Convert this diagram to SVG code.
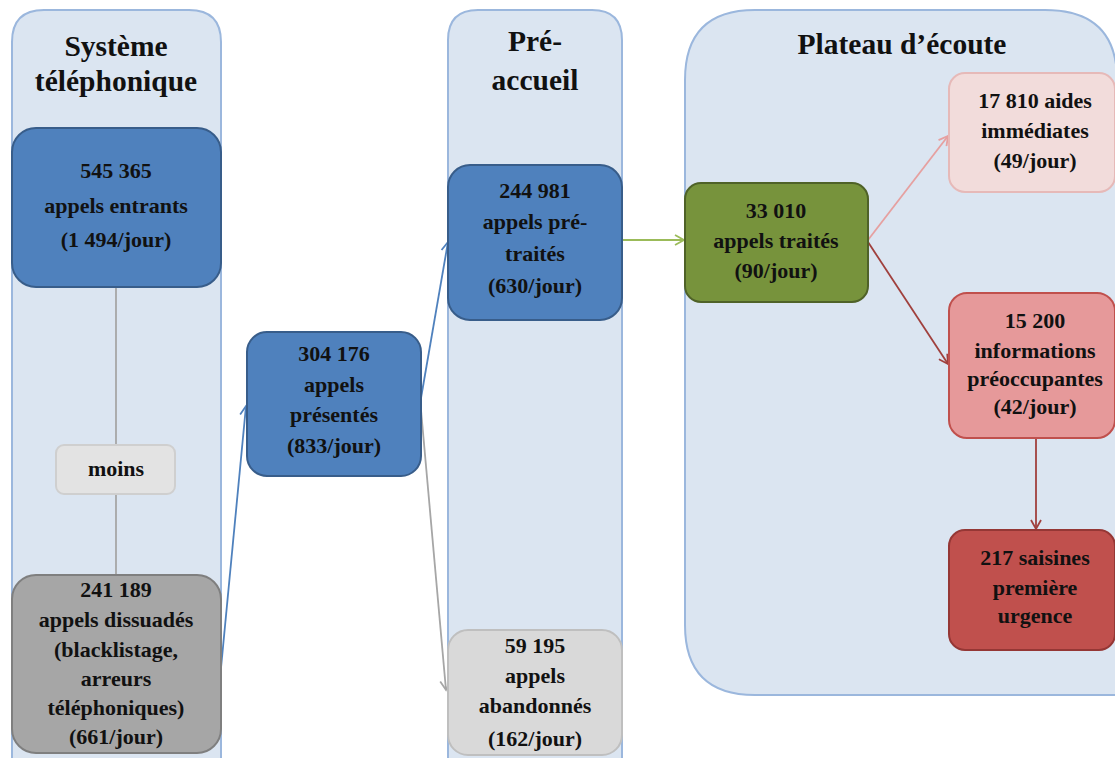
<svg xmlns="http://www.w3.org/2000/svg" width="1115" height="758" viewBox="0 0 1115 758">
<style>
.lane{fill:#dbe5f1;stroke:#9bb7dd;stroke-width:2}
.t{font-family:"Liberation Serif",serif;font-size:22px;fill:#111;text-anchor:middle;font-weight:bold}
.h{font-family:"Liberation Serif",serif;font-size:29.5px;fill:#111;text-anchor:middle;font-weight:bold}
.blue{fill:#4f81bd;stroke:#385d8a;stroke-width:2}
.gray{fill:#a6a6a6;stroke:#7f7f7f;stroke-width:2}
.lgray{fill:#d9d9d9;stroke:#bfbfbf;stroke-width:2}
.green{fill:#77933c;stroke:#4f6228;stroke-width:2}
.pink{fill:#f2dcdb;stroke:#e6b9b8;stroke-width:2}
.rose{fill:#e6999a;stroke:#c0504d;stroke-width:2}
.red{fill:#c0504d;stroke:#953735;stroke-width:2}
.c{fill:none;stroke-width:1.8}
</style>
<defs>
<marker id="aB" markerWidth="12" markerHeight="12" refX="10" refY="6" orient="auto" markerUnits="userSpaceOnUse"><path d="M1,1 L10,6 L1,11" fill="none" stroke="#4f81bd" stroke-width="1.8"/></marker>
<marker id="aG" markerWidth="12" markerHeight="12" refX="10" refY="6" orient="auto" markerUnits="userSpaceOnUse"><path d="M1,1 L10,6 L1,11" fill="none" stroke="#a6a6a6" stroke-width="1.8"/></marker>
<marker id="aGr" markerWidth="12" markerHeight="12" refX="10" refY="6" orient="auto" markerUnits="userSpaceOnUse"><path d="M1,1 L10,6 L1,11" fill="none" stroke="#9bbb59" stroke-width="1.8"/></marker>
<marker id="aP" markerWidth="12" markerHeight="12" refX="10" refY="6" orient="auto" markerUnits="userSpaceOnUse"><path d="M1,1 L10,6 L1,11" fill="none" stroke="#e6a0a0" stroke-width="1.8"/></marker>
<marker id="aR" markerWidth="12" markerHeight="12" refX="10" refY="6" orient="auto" markerUnits="userSpaceOnUse"><path d="M1,1 L10,6 L1,11" fill="none" stroke="#a0403d" stroke-width="1.8"/></marker>
</defs>
<rect width="1115" height="758" fill="#fff"/>
<g id="lane-systeme">
<path class="lane" d="M12,760 L12,42 Q12,10 44,10 L189,10 Q221,10 221,42 L221,760"/>
<text class="h" x="116" y="56">Système</text>
<text class="h" x="116" y="91">téléphonique</text>
</g>
<g id="lane-preaccueil">
<path class="lane" d="M448,760 L448,40 Q448,10 478,10 L592,10 Q622,10 622,40 L622,760"/>
<text class="h" x="535" y="51">Pré-</text>
<text class="h" x="535" y="90">accueil</text>
</g>
<g id="lane-plateau">
<path class="lane" d="M1117,695 L755,695 Q685,695 685,625 L685,80 Q685,10 755,10 L1045,10 Q1117,10 1117,80"/>
<text class="h" x="902" y="54">Plateau d’écoute</text>
</g>
<g id="connectors">
<line class="c" x1="116" y1="287" x2="116" y2="445" stroke="#a6a6a6"/>
<line class="c" x1="116" y1="494" x2="116" y2="575" stroke="#a6a6a6"/>
<line class="c" x1="221" y1="668" x2="246" y2="406" stroke="#4f81bd" marker-end="url(#aB)"/>
<line class="c" x1="421" y1="398" x2="448" y2="242" stroke="#4f81bd" marker-end="url(#aB)"/>
<line class="c" x1="421" y1="410" x2="446" y2="690" stroke="#a6a6a6" marker-end="url(#aG)"/>
<line class="c" x1="622" y1="240" x2="684" y2="240" stroke="#9bbb59" marker-end="url(#aGr)"/>
<line class="c" x1="868" y1="240" x2="948" y2="136" stroke="#e6a0a0" marker-end="url(#aP)"/>
<line class="c" x1="868" y1="242" x2="948" y2="364" stroke="#a0403d" marker-end="url(#aR)"/>
<line class="c" x1="1036" y1="438" x2="1036" y2="529" stroke="#a0403d" marker-end="url(#aR)"/>
</g>
<g id="n-entrants">
<rect class="blue" x="12" y="128" width="209" height="159" rx="24"/>
<text class="t" x="116" y="178">545 365</text>
<text class="t" x="116" y="213">appels entrants</text>
<text class="t" x="116" y="247">(1 494/jour)</text>
</g>
<g id="n-moins">
<rect class="lgray" x="56" y="445" width="119" height="49" rx="8" style="fill:#e3e3e3;stroke:#cfcfcf"/>
<text class="t" x="116" y="476">moins</text>
</g>
<g id="n-dissuades">
<rect class="gray" x="12" y="575" width="209" height="178" rx="24"/>
<text class="t" x="116" y="597">241 189</text>
<text class="t" x="116" y="627">appels dissuadés</text>
<text class="t" x="116" y="657">(blacklistage,</text>
<text class="t" x="116" y="686">arreurs</text>
<text class="t" x="116" y="715">téléphoniques)</text>
<text class="t" x="116" y="744">(661/jour)</text>
</g>
<g id="n-presentes">
<rect class="blue" x="247" y="332" width="174" height="144" rx="20"/>
<text class="t" x="334" y="361">304 176</text>
<text class="t" x="334" y="392">appels</text>
<text class="t" x="334" y="422">présentés</text>
<text class="t" x="334" y="453">(833/jour)</text>
</g>
<g id="n-pretraites">
<rect class="blue" x="448" y="165" width="174" height="155" rx="22"/>
<text class="t" x="535" y="198">244 981</text>
<text class="t" x="535" y="229">appels pré-</text>
<text class="t" x="535" y="261">traités</text>
<text class="t" x="535" y="293">(630/jour)</text>
</g>
<g id="n-abandonnes">
<rect class="lgray" x="448" y="630" width="174" height="125" rx="20"/>
<text class="t" x="535" y="653">59 195</text>
<text class="t" x="535" y="683">appels</text>
<text class="t" x="535" y="713">abandonnés</text>
<text class="t" x="535" y="746">(162/jour)</text>
</g>
<g id="n-traites">
<rect class="green" x="685" y="183" width="183" height="119" rx="16"/>
<text class="t" x="776" y="218">33 010</text>
<text class="t" x="776" y="248">appels traités</text>
<text class="t" x="776" y="278">(90/jour)</text>
</g>
<g id="n-aides">
<rect class="pink" x="949" y="73" width="166" height="119" rx="16"/>
<text class="t" x="1035" y="108">17 810 aides</text>
<text class="t" x="1035" y="138">immédiates</text>
<text class="t" x="1035" y="168">(49/jour)</text>
</g>
<g id="n-informations">
<rect class="rose" x="949" y="293" width="166" height="145" rx="18"/>
<text class="t" x="1035" y="328">15 200</text>
<text class="t" x="1035" y="358">informations</text>
<text class="t" x="1035" y="386">préoccupantes</text>
<text class="t" x="1035" y="414">(42/jour)</text>
</g>
<g id="n-saisines">
<rect class="red" x="949" y="530" width="166" height="120" rx="16"/>
<text class="t" x="1035" y="565">217 saisines</text>
<text class="t" x="1035" y="595">première</text>
<text class="t" x="1035" y="623">urgence</text>
</g>
</svg>
